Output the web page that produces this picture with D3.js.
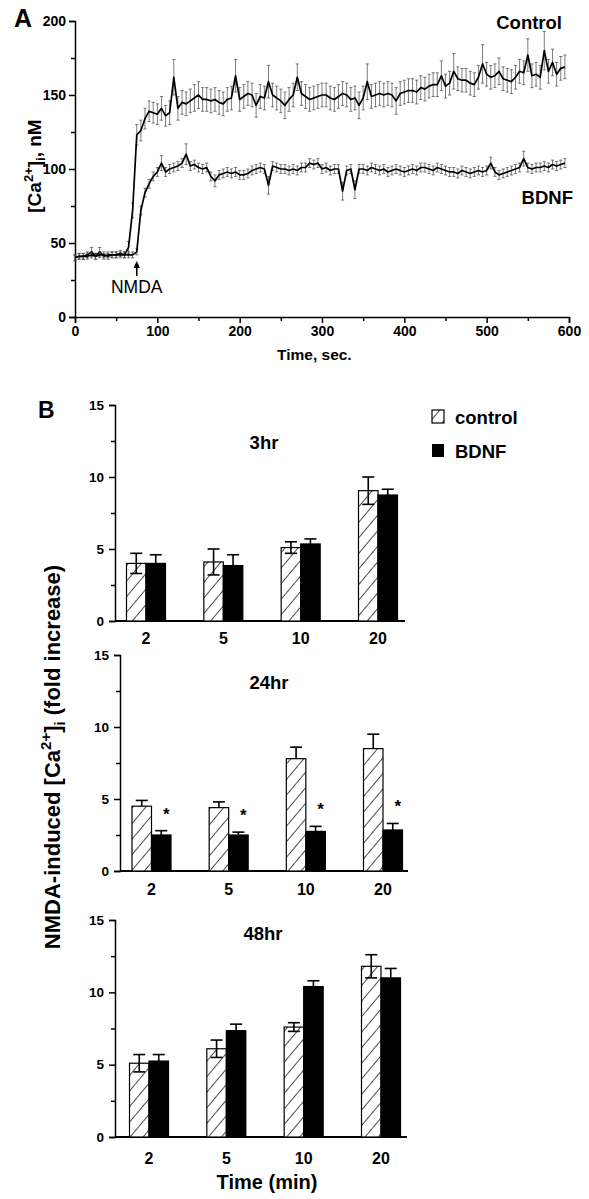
<!DOCTYPE html>
<html><head><meta charset="utf-8">
<script src="https://cdn.jsdelivr.net/npm/d3@7"></script>
<style>
html,body{margin:0;padding:0;background:#fff;}
svg{display:block;font-family:"Liberation Sans",Arial,sans-serif;}
.ax path,.ax line{stroke:#000;stroke-width:1.5;}
.ax text{font-weight:bold;fill:#000;}
</style></head>
<body>
<script>
// ---------- Panel A data ----------
const timesSec = [0,5,10,15,20,25,30,35,40,45,50,55,60,65,70,75,80,85,90,95,
100,105,110,115,120,125,130,135,140,145,150,155,160,165,170,175,180,185,190,195,
200,205,210,215,220,225,230,235,240,245,250,255,260,265,270,275,280,285,290,295,
300,305,310,315,320,325,330,335,340,345,350,355,360,365,370,375,380,385,390,395,
400,405,410,415,420,425,430,435,440,445,450,455,460,465,470,475,480,485,490,495,
500,505,510,515,520,525,530,535,540,545,550,555,560,565,570,575,580,585,590,595];
const controlMean = [40,41,41,42,44,41,44,41,42,42,42,43,42,47,72,123,126,134,139,138,
137,141,136,138,162,141,145,144,146,148,150,147,147,146,147,145,144,147,148,163,
147,149,151,150,143,149,148,159,150,148,146,143,147,150,162,151,149,147,148,149,
150,150,148,147,149,151,150,147,148,143,148,159,149,150,151,150,151,150,146,151,
152,153,153,152,155,154,156,157,157,163,156,158,166,161,160,160,158,157,162,171,
164,162,163,166,161,160,159,162,166,165,177,163,164,162,180,166,172,164,168,169];
const controlErr = [2,2,2,2,3,2,3,2,2,2,2,2,2,4,5,7,7,7,7,7,
7,8,7,8,12,8,8,8,8,9,9,8,8,8,8,8,8,8,8,11,
8,8,8,8,8,8,8,11,8,8,8,9,8,8,9,8,8,8,8,8,
8,8,8,8,8,8,8,8,8,9,8,12,8,8,8,8,8,8,9,8,
8,8,8,8,8,8,8,8,8,10,8,8,12,8,8,8,8,8,8,13,
8,8,8,9,8,8,8,8,8,8,11,8,8,8,13,8,9,8,8,8];
const bdnfMean = [40,41,41,41,42,41,42,42,41,42,42,42,42,42,42,44,72,84,90,95,
98,104,98,100,101,102,104,110,102,103,101,100,101,95,92,96,97,98,97,98,
96,96,97,99,100,101,100,89,102,101,100,100,99,100,99,101,101,104,103,104,
100,101,99,100,100,85,99,100,86,100,100,99,101,100,99,100,98,99,100,99,
98,99,100,99,101,101,100,99,101,100,99,98,98,97,99,98,97,98,99,98,
99,104,98,96,97,98,99,100,101,107,101,100,101,101,102,101,103,102,103,104];
const bdnfErr = [2,2,2,2,2,2,2,2,2,2,2,2,2,2,2,2,3,3,3,3,
3,5,3,3,3,3,3,7,3,3,3,3,3,3,4,3,3,3,3,3,
3,3,3,3,3,3,3,6,3,3,3,3,3,3,3,3,3,3,3,3,
3,3,3,3,3,6,3,3,6,3,3,3,3,3,3,3,3,3,3,3,
3,3,3,3,3,3,3,3,3,3,3,3,3,3,3,3,3,3,3,3,
3,4,3,3,3,3,3,3,3,5,3,3,3,3,3,3,3,3,3,3];
const xTicksA = [0,100,200,300,400,500,600];
const yTicksA = [0,50,100,150,200];

// ---------- Panel B data ----------
const categories = ["2","5","10","20"];
const panelTitles = ["3hr","24hr","48hr"];
const ctrl3 = [4.0,4.1,5.1,9.05],   ctrl3Err = [0.7,0.9,0.4,0.95];
const bdnf3 = [4.0,3.85,5.35,8.75], bdnf3Err = [0.6,0.75,0.35,0.4];
const ctrl24 = [4.5,4.4,7.8,8.5],   ctrl24Err = [0.4,0.4,0.8,1.0];
const bdnf24 = [2.5,2.5,2.75,2.85], bdnf24Err = [0.3,0.2,0.35,0.45];
const ctrl48 = [5.1,6.1,7.6,11.8],  ctrl48Err = [0.6,0.6,0.3,0.8];
const bdnf48 = [5.25,7.35,10.4,11.0], bdnf48Err = [0.45,0.45,0.4,0.65];
const sig24 = [true,true,true,true];
const yTicksB = [0,5,10,15];
const legendLabels = ["control","BDNF"];

// ---------- drawing ----------
const W = 589, H = 1199;
const svg = d3.select("body").append("svg").attr("width",W).attr("height",H);
const defs = svg.append("defs");
const pat = defs.append("pattern").attr("id","hatch").attr("patternUnits","userSpaceOnUse")
  .attr("width",10).attr("height",10).attr("patternTransform","rotate(40)");
pat.append("rect").attr("width",10).attr("height",10).attr("fill","#fff");
pat.append("line").attr("x1",0).attr("y1",0).attr("x2",0).attr("y2",10).attr("stroke","#000").attr("stroke-width",1.4);

// ===== Panel A =====
const xA = d3.scaleLinear().domain([0,600]).range([75,569]);
const yA = d3.scaleLinear().domain([0,200]).range([317,21]);
const gA = svg.append("g");
gA.append("g").attr("class","ax").attr("transform","translate(0,317)")
  .call(d3.axisBottom(xA).tickValues(xTicksA).tickSize(6).tickPadding(3).tickFormat(d3.format("d")))
  .call(g=>g.selectAll("text").style("font-size","14px"));
gA.append("g").attr("class","ax").attr("transform","translate(0,317)")
  .call(d3.axisBottom(xA).tickValues([50,150,250,350,450,550]).tickSize(4).tickFormat(""))
  .call(g=>g.select(".domain").remove());
gA.append("g").attr("class","ax").attr("transform","translate(75,0)")
  .call(d3.axisLeft(yA).tickValues(yTicksA).tickSize(6).tickPadding(3))
  .call(g=>g.selectAll("text").style("font-size","14px"));
gA.append("g").attr("class","ax").attr("transform","translate(75,0)")
  .call(d3.axisLeft(yA).tickValues([25,75,125,175]).tickSize(4).tickFormat(""))
  .call(g=>g.select(".domain").remove());

function drawTrace(mean, err){
  const pts = timesSec.map((t,i)=>({t, m:mean[i], e:err[i]}));
  const eb = gA.append("g").attr("stroke","#444").attr("stroke-width",0.7);
  pts.forEach(p=>{
    const x = xA(p.t);
    eb.append("line").attr("x1",x).attr("x2",x).attr("y1",yA(p.m-p.e)).attr("y2",yA(p.m+p.e));
    eb.append("line").attr("x1",x-1.6).attr("x2",x+1.6).attr("y1",yA(p.m+p.e)).attr("y2",yA(p.m+p.e));
    eb.append("line").attr("x1",x-1.6).attr("x2",x+1.6).attr("y1",yA(p.m-p.e)).attr("y2",yA(p.m-p.e));
  });
  gA.append("path").datum(pts).attr("fill","none").attr("stroke","#000").attr("stroke-width",1.7)
    .attr("stroke-linejoin","round")
    .attr("d", d3.line().x(d=>xA(d.t)).y(d=>yA(d.m)));
}
drawTrace(controlMean, controlErr);
drawTrace(bdnfMean, bdnfErr);

gA.append("text").attr("x",14).attr("y",27).attr("font-size",25).attr("font-weight","bold").text("A");
gA.append("text").attr("x",562).attr("y",29).attr("text-anchor","end").attr("font-size",18.5).attr("font-weight","bold").text("Control");
gA.append("text").attr("x",573).attr("y",204).attr("text-anchor","end").attr("font-size",18.5).attr("font-weight","bold").text("BDNF");
// NMDA arrow
const ax0 = xA(75);
gA.append("line").attr("x1",ax0).attr("x2",ax0).attr("y1",276).attr("y2",266).attr("stroke","#000").attr("stroke-width",1.6);
gA.append("path").attr("d",`M${ax0-3.2},${268} L${ax0},${261} L${ax0+3.2},${268} Z`).attr("fill","#000");
gA.append("text").attr("x",ax0).attr("y",293).attr("text-anchor","middle").attr("font-size",17.5).text("NMDA");
// axis titles
gA.append("text").attr("x",277).attr("y",360).attr("font-size",15.5).attr("font-weight","bold").text("Time, sec.");
const yl = gA.append("text").attr("transform","translate(41,166) rotate(-90)").attr("text-anchor","middle")
  .attr("font-size",19).attr("font-weight","bold");
yl.append("tspan").text("[Ca");
yl.append("tspan").attr("font-size",13).attr("dy",-8).text("2+");
yl.append("tspan").attr("dy",8).text("]");
yl.append("tspan").attr("font-size",13).attr("dy",4).text("i");
yl.append("tspan").attr("dy",-4).text(", nM");

// ===== Panel B =====
const panels = [
  {ctrl:ctrl3, ce:ctrl3Err, bdnf:bdnf3, be:bdnf3Err, sig:null, lower:true,
   x0:115, y0:621, yTop:405, c0:146, c1:378, xEnd:405, labY:638, title:[264,442]},
  {ctrl:ctrl24, ce:ctrl24Err, bdnf:bdnf24, be:bdnf24Err, sig:sig24, lower:false,
   x0:120, y0:871, yTop:655, c0:151.5, c1:383, xEnd:408, labY:889, title:[269,682]},
  {ctrl:ctrl48, ce:ctrl48Err, bdnf:bdnf48, be:bdnf48Err, sig:null, lower:true,
   x0:115, y0:1137, yTop:920, c0:149, c1:381, xEnd:407, labY:1158, title:[263,933]}
];
const bw = 19.5;
panels.forEach((p,pi)=>{
  const g = svg.append("g");
  const y = d3.scaleLinear().domain([0,15]).range([p.y0,p.yTop]);
  const x = d3.scalePoint().domain(categories).range([p.c0,p.c1]);
  g.append("g").attr("class","ax").attr("transform",`translate(${p.x0},0)`)
    .call(d3.axisLeft(y).tickValues(yTicksB).tickSize(6).tickPadding(5))
    .call(gg=>gg.selectAll("text").style("font-size","13.5px"));
  g.append("g").attr("class","ax").attr("transform",`translate(${p.x0},0)`)
    .call(d3.axisLeft(y).tickValues([2.5,7.5,12.5]).tickSize(4).tickFormat(""))
    .call(gg=>gg.select(".domain").remove());
  g.append("line").attr("x1",p.x0).attr("x2",p.xEnd).attr("y1",p.y0).attr("y2",p.y0).attr("stroke","#000").attr("stroke-width",1.8);
  categories.forEach((c,i)=>{
    const cx = x(c);
    g.append("rect").attr("x",cx-bw).attr("y",y(p.ctrl[i])).attr("width",bw).attr("height",p.y0-y(p.ctrl[i]))
      .attr("fill","url(#hatch)").attr("stroke","#000").attr("stroke-width",1.2);
    g.append("rect").attr("x",cx).attr("y",y(p.bdnf[i])).attr("width",bw).attr("height",p.y0-y(p.bdnf[i]))
      .attr("fill","#000").attr("stroke","#000").attr("stroke-width",1.2);
    const eb = (mx, m, e, lower)=>{
      const lo = lower ? y(m-e) : y(m);
      g.append("line").attr("x1",mx).attr("x2",mx).attr("y1",lo).attr("y2",y(m+e)).attr("stroke","#000").attr("stroke-width",1.6);
      g.append("line").attr("x1",mx-6).attr("x2",mx+6).attr("y1",y(m+e)).attr("y2",y(m+e)).attr("stroke","#000").attr("stroke-width",1.6);
      if(lower) g.append("line").attr("x1",mx-6).attr("x2",mx+6).attr("y1",y(m-e)).attr("y2",y(m-e)).attr("stroke","#000").attr("stroke-width",1.6);
    };
    eb(cx-bw/2, p.ctrl[i], p.ce[i], p.lower);
    eb(cx+bw/2, p.bdnf[i], p.be[i], false);
    if(p.sig && p.sig[i]){
      g.append("text").attr("x",cx+bw/2+5).attr("y",y(p.bdnf[i]+p.be[i])-11).attr("text-anchor","middle")
        .attr("font-size",17).attr("font-weight","bold").text("*");
    }
    g.append("text").attr("x",cx).attr("y",p.labY).attr("text-anchor","middle").attr("dominant-baseline","central")
      .attr("font-size",16).attr("font-weight","bold").text(c);
  });
  g.append("text").attr("x",p.title[0]).attr("y",p.title[1]).attr("text-anchor","middle").attr("dominant-baseline","central")
    .attr("font-size",18.5).attr("font-weight","bold").text(panelTitles[pi]);
});
svg.append("text").attr("x",38).attr("y",418).attr("font-size",23).attr("font-weight","bold").text("B");
svg.append("rect").attr("x",432).attr("y",410).attr("width",12).attr("height",13).attr("fill","url(#hatch)").attr("stroke","#000").attr("stroke-width",1.2);
svg.append("rect").attr("x",432).attr("y",444).attr("width",12).attr("height",13).attr("fill","#000");
svg.append("text").attr("x",455).attr("y",417).attr("dominant-baseline","central").attr("font-size",18.5).attr("font-weight","bold").text(legendLabels[0]);
svg.append("text").attr("x",455).attr("y",451).attr("dominant-baseline","central").attr("font-size",18.5).attr("font-weight","bold").text(legendLabels[1]);
const bl = svg.append("text").attr("transform","translate(60,757) rotate(-90)").attr("text-anchor","middle")
  .attr("font-size",22).attr("font-weight","bold");
bl.append("tspan").text("NMDA-induced [Ca");
bl.append("tspan").attr("font-size",15).attr("dy",-9).text("2+");
bl.append("tspan").attr("dy",9).text("]");
bl.append("tspan").attr("font-size",15).attr("dy",5).text("i");
bl.append("tspan").attr("dy",-5).text(" (fold increase)");
svg.append("text").attr("x",267).attr("y",1182).attr("text-anchor","middle").attr("dominant-baseline","central")
  .attr("font-size",20).attr("font-weight","bold").text("Time (min)");
</script>
</body></html>
